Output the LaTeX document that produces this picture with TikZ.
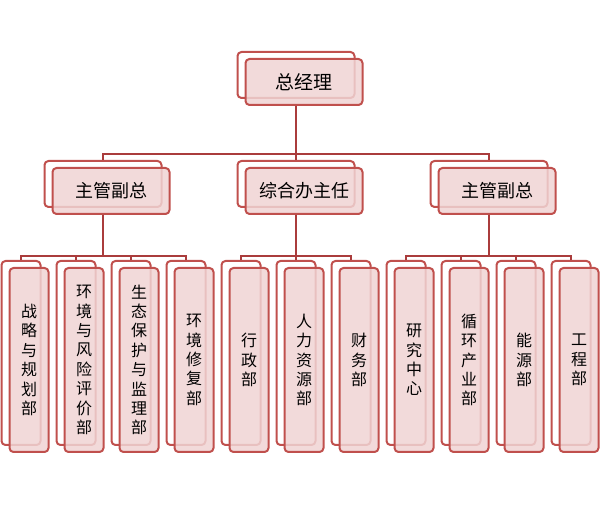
\documentclass[tikz,border=0pt]{standalone}
\usepackage{fontspec}
\setmainfont{Noto Sans CJK SC}
\usetikzlibrary{positioning,calc}
\definecolor{boxline}{RGB}{192,80,77}
\definecolor{boxfill}{RGB}{240,212,212}
\definecolor{linkred}{RGB}{170,60,60}

\begin{document}
\begin{tikzpicture}[x=1pt, y=1pt,
  bk/.style={draw=boxline, line width=2pt, rounded corners=4pt, inner sep=0pt},
  fr/.style={bk, fill=boxfill, fill opacity=0.85, text opacity=1},
  head/.style={minimum width=117pt, minimum height=46pt},
  dept/.style={minimum width=39pt, minimum height=184pt, align=center,
    font=\fontsize{16}{19.4}\selectfont},
  lk/.style={draw=linkred, line width=2pt},
]
\useasboundingbox (0,0) rectangle (600,514);
% top and second row
\node[bk, head] (gmbk) at (296,439) {};
\node[fr, head, font=\fontsize{19}{21}\selectfont] (gm) at ([xshift=8pt, yshift=-7pt]gmbk.center) {总经理};
\node[bk, head] (vplbk) at (103,330) {};
\node[fr, head, font=\fontsize{18}{20}\selectfont] (vpl) at ([xshift=8pt, yshift=-7pt]vplbk.center) {主管副总};
\node[bk, head] (ofcbk) at (296,330) {};
\node[fr, head, font=\fontsize{18}{20}\selectfont] (ofc) at ([xshift=8pt, yshift=-7pt]ofcbk.center) {综合办主任};
\node[bk, head] (vprbk) at (489,330) {};
\node[fr, head, font=\fontsize{18}{20}\selectfont] (vpr) at ([xshift=8pt, yshift=-7pt]vprbk.center) {主管副总};
% departments
\foreach \t [count=\i from 0] in {{战\\略\\与\\规\\划\\部}, {环\\境\\与\\风\\险\\评\\价\\部},
    {生\\态\\保\\护\\与\\监\\理\\部}, {环\\境\\修\\复\\部}, {行\\政\\部},
    {人\\力\\资\\源\\部}, {财\\务\\部}, {研\\究\\中\\心}, {循\\环\\产\\业\\部},
    {能\\源\\部}, {工\\程\\部}} {
  \node[bk, dept] (d\i bk) at ({21+55*\i},161) {};
  \node[fr, dept] (d\i) at ([xshift=8pt, yshift=-7pt]d\i bk.center) {\t};
}
% connectors
\coordinate (bustop) at (gmbk.center |- 0,360);
\coordinate (busl) at (vplbk.center |- 0,258);
\coordinate (buso) at (ofcbk.center |- 0,258);
\coordinate (busr) at (vprbk.center |- 0,258);
\foreach \c in {vplbk, ofcbk, vprbk}
  \draw[lk] (gmbk.center |- gm.south) -- (bustop) -| (\c.north);
\foreach \c in {0,...,3}
  \draw[lk] (vplbk.center |- vpl.south) -- (busl) -| (d\c bk.north);
\foreach \c in {4,...,6}
  \draw[lk] (ofcbk.center |- ofc.south) -- (buso) -| (d\c bk.north);
\foreach \c in {7,...,10}
  \draw[lk] (vprbk.center |- vpr.south) -- (busr) -| (d\c bk.north);
\end{tikzpicture}
\end{document}
